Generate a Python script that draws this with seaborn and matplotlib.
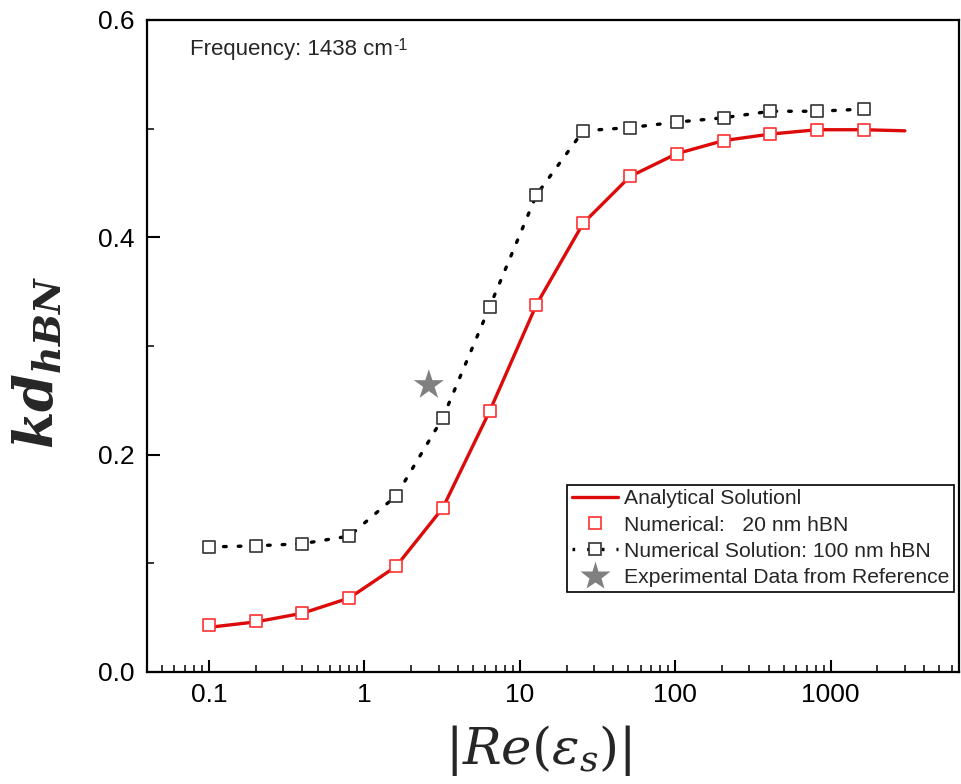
import numpy as np
import pandas as pd
import matplotlib
matplotlib.use("Agg")
import matplotlib.pyplot as plt
import seaborn as sns
from matplotlib.ticker import LogLocator, FixedLocator, NullFormatter, FixedFormatter
from matplotlib.lines import Line2D

# ---- data ----
eps_re = [0.1, 0.2, 0.4, 0.8, 1.6, 3.2, 6.4, 12.8, 25.6, 51.2, 102.4, 204.8, 409.6, 819.2, 1638.4]
kd_20nm = [0.043, 0.047, 0.054, 0.068, 0.097, 0.151, 0.240, 0.338, 0.413, 0.456, 0.477, 0.489, 0.495, 0.499, 0.499]
kd_100nm = [0.115, 0.116, 0.118, 0.125, 0.162, 0.234, 0.336, 0.439, 0.498, 0.501, 0.506, 0.510, 0.516, 0.516, 0.518]
analytic_x = [0.1, 0.2, 0.4, 0.8, 1.6, 3.2, 6.4, 12.8, 25.6, 51.2, 102.4, 204.8, 409.6, 819.2, 1638.4, 3000]
analytic_y = [0.041, 0.046, 0.054, 0.068, 0.097, 0.151, 0.240, 0.338, 0.413, 0.456, 0.477, 0.489, 0.495, 0.499, 0.499, 0.498]
exp_x = [2.6]
exp_y = [0.264]
x_ticks = [0.1, 1, 10, 100, 1000]
x_ticklabels = ["0.1", "1", "10", "100", "1000"]
y_ticks = [0.0, 0.2, 0.4, 0.6]
y_ticklabels = ["0.0", "0.2", "0.4", "0.6"]

sns.set_style("ticks")
plt.rcParams["font.family"] = ["Liberation Sans", "DejaVu Sans"]
plt.rcParams["mathtext.fontset"] = "custom"
plt.rcParams["mathtext.rm"] = "DejaVu Serif"
plt.rcParams["mathtext.it"] = "DejaVu Serif:italic"
plt.rcParams["mathtext.bf"] = "DejaVu Serif:italic:bold"

df_an = pd.DataFrame({"x": analytic_x, "y": analytic_y})
df_20 = pd.DataFrame({"x": eps_re, "y": kd_20nm})
df_100 = pd.DataFrame({"x": eps_re, "y": kd_100nm})
df_exp = pd.DataFrame({"x": exp_x, "y": exp_y})

fig = plt.figure(figsize=(9.61, 7.84), dpi=100)
ax = fig.add_axes([0.153, 0.143, 0.845, 0.8315])

red_line = "#dd0a0a"
red_mk = "#ff3030"
dots = (0, (0.8, 3.6))

sns.lineplot(data=df_an, x="x", y="y", ax=ax, color=red_line, lw=2.4, sort=False, zorder=2)
sns.lineplot(data=df_100, x="x", y="y", ax=ax, color="black", lw=2.4, sort=False, zorder=2,
             linestyle=dots, dash_capstyle="round")
sns.scatterplot(data=df_20, x="x", y="y", ax=ax, marker="s", s=82, facecolor="white",
                edgecolor=red_mk, linewidth=1.2, zorder=3)
sns.scatterplot(data=df_100, x="x", y="y", ax=ax, marker="s", s=82, facecolor="white",
                edgecolor="#333333", linewidth=1.2, zorder=3)
sns.scatterplot(data=df_exp, x="x", y="y", ax=ax, marker="*", s=520, color="#808080",
                edgecolor="none", zorder=4)

ax.set_xscale("log")
ax.set_xlim(0.04, 6700)
ax.set_ylim(0, 0.6)
ax.xaxis.set_major_locator(FixedLocator(x_ticks))
ax.xaxis.set_major_formatter(FixedFormatter(x_ticklabels))
ax.xaxis.set_minor_locator(LogLocator(base=10, subs=np.arange(2, 10), numticks=50))
ax.xaxis.set_minor_formatter(NullFormatter())
ax.yaxis.set_major_locator(FixedLocator(y_ticks))
ax.yaxis.set_major_formatter(FixedFormatter(y_ticklabels))
ax.yaxis.set_minor_locator(FixedLocator([0.1, 0.3, 0.5]))

ax.tick_params(which="major", direction="in", length=9, width=1.5, labelsize=19, pad=8,
               top=False, right=False, colors="black")
ax.tick_params(which="minor", direction="in", length=5, width=1.3, top=False, right=False)
ax.tick_params(axis="y", which="major", pad=9)
for sp in ax.spines.values():
    sp.set_visible(True)
    sp.set_linewidth(1.6)
    sp.set_color("black")

ax.set_xlabel(r"$|Re(\varepsilon_s)|$", fontsize=37)
ax.xaxis.set_label_coords(0.482, -0.078)
ax.xaxis.label.set_va("top")
ax.set_ylabel(r"$\mathbf{kd}_{\mathbf{hBN}}$", fontsize=39)
ax.yaxis.set_label_coords(-0.101, 0.475)

t = ax.text(0.053, 0.946, "Frequency: 1438 cm", transform=ax.transAxes, fontsize=16,
            ha="left", va="baseline")
ax.annotate("-1", xy=(1, 1), xycoords=t, xytext=(0.5, 1), textcoords="offset points",
            ha="left", va="top", fontsize=11.5)

handles = [
    Line2D([], [], color=red_line, lw=2.4),
    Line2D([], [], color="none", marker="s", markersize=9.0, markerfacecolor="white",
           markeredgecolor=red_mk, markeredgewidth=1.2),
    Line2D([], [], color="black", lw=2.4, linestyle=dots, marker="s", markersize=9.0,
           markerfacecolor="white", markeredgecolor="#333333", markeredgewidth=1.2),
    Line2D([], [], color="none", marker="*", markersize=22, markerfacecolor="#808080",
           markeredgecolor="none"),
]
labels = ["Analytical Solutionl", "Numerical:   20 nm hBN",
          "Numerical Solution: 100 nm hBN", "Experimental Data from Reference"]
leg = ax.legend(handles, labels, loc="upper left", bbox_to_anchor=(0.517, 0.287),
                borderaxespad=0, fontsize=15.2, frameon=True, fancybox=False,
                edgecolor="black", framealpha=1, handlelength=2.2, handletextpad=0.3,
                labelspacing=0.34, borderpad=0.22)
leg.get_frame().set_linewidth(1.2)

fig.savefig("out.png", dpi=100)
